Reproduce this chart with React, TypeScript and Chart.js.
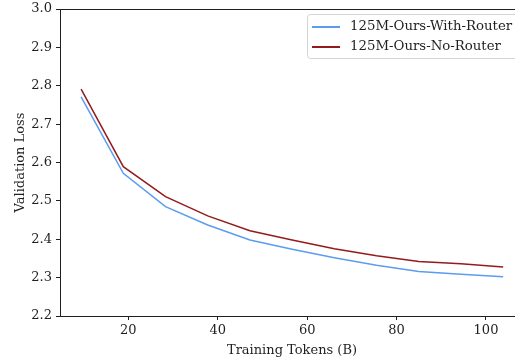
import React, { useEffect, useRef } from "react";
import { Chart, registerables } from "chart.js";

Chart.register(...registerables);

const tokens = [9.44, 18.88, 28.32, 37.76, 47.2, 56.64, 66.08, 75.52, 84.96, 94.4, 103.84];
const withRouter = [2.771, 2.572, 2.485, 2.437, 2.398, 2.374, 2.352, 2.332, 2.316, 2.309, 2.302];
const noRouter = [2.791, 2.589, 2.511, 2.461, 2.422, 2.398, 2.375, 2.357, 2.342, 2.336, 2.328];
const xTicks = [20, 40, 60, 80, 100];
const yTicks = [2.2, 2.3, 2.4, 2.5, 2.6, 2.7, 2.8, 2.9, 3.0];
const seriesNames = ["125M-Ours-With-Router", "125M-Ours-No-Router"];
const seriesColors = ["#5b9cf0", "#941b1b"];

const FONT = "'DejaVu Serif', serif";
const INK = "#1f1f1f";

const framePlugin = {
  id: "frame",
  afterDatasetsDraw(chart: any) {
    const { ctx, chartArea } = chart;
    ctx.save();
    ctx.strokeStyle = INK;
    ctx.lineWidth = 1;
    ctx.strokeRect(
      Math.round(chartArea.left) + 0.5,
      Math.round(chartArea.top) + 0.5,
      Math.round(chartArea.right - chartArea.left),
      Math.round(chartArea.bottom - chartArea.top)
    );
    // legend
    const bx = 307.5, by = 14.5, bw = 212, bh = 44, r = 3;
    ctx.beginPath();
    ctx.moveTo(bx + r, by);
    ctx.lineTo(bx + bw - r, by);
    ctx.quadraticCurveTo(bx + bw, by, bx + bw, by + r);
    ctx.lineTo(bx + bw, by + bh - r);
    ctx.quadraticCurveTo(bx + bw, by + bh, bx + bw - r, by + bh);
    ctx.lineTo(bx + r, by + bh);
    ctx.quadraticCurveTo(bx, by + bh, bx, by + bh - r);
    ctx.lineTo(bx, by + r);
    ctx.quadraticCurveTo(bx, by, bx + r, by);
    ctx.closePath();
    ctx.fillStyle = "rgba(255,255,255,0.85)";
    ctx.fill();
    ctx.strokeStyle = "#d4d4d4";
    ctx.stroke();
    ctx.font = `13.3px ${FONT}`;
    ctx.textBaseline = "middle";
    ctx.textAlign = "left";
    seriesNames.forEach((name, i) => {
      const y = 27 + i * 20;
      ctx.strokeStyle = seriesColors[i];
      ctx.lineWidth = 2;
      ctx.beginPath();
      ctx.moveTo(312, y);
      ctx.lineTo(340, y);
      ctx.stroke();
      ctx.fillStyle = INK;
      ctx.fillText(name, 350, y);
    });
    ctx.restore();
  },
};

export default function App() {
  const ref = useRef<HTMLCanvasElement>(null);
  useEffect(() => {
    if (!ref.current) return;
    const chart = new Chart(ref.current, {
      type: "line",
      data: {
        datasets: [
          {
            label: seriesNames[0],
            data: tokens.map((x, i) => ({ x, y: withRouter[i] })),
            borderColor: seriesColors[0],
            borderWidth: 1.5,
            pointRadius: 0,
            tension: 0,
          },
          {
            label: seriesNames[1],
            data: tokens.map((x, i) => ({ x, y: noRouter[i] })),
            borderColor: seriesColors[1],
            borderWidth: 1.5,
            pointRadius: 0,
            tension: 0,
          },
        ],
      },
      options: {
        responsive: false,
        animation: false,
        layout: { padding: { top: 9, right: 1, left: 0, bottom: 0 } },
        plugins: { legend: { display: false }, tooltip: { enabled: false } },
        scales: {
          x: {
            type: "linear",
            min: 4.72,
            max: 108.5,
            afterBuildTicks: (s: any) => {
              s.ticks = xTicks.map((v) => ({ value: v }));
            },
            afterFit: (s: any) => {
              s.height = 44;
              s.paddingLeft = 0;
              s.paddingRight = 0;
            },
            grid: { drawOnChartArea: false, drawTicks: true, tickLength: 4, color: INK },
            border: { display: false },
            ticks: {
              maxRotation: 0,
              autoSkip: false,
              padding: 3,
              color: INK,
              font: { family: FONT, size: 13 },
            },
            title: {
              display: true,
              text: "Training Tokens (B)",
              color: INK,
              font: { family: FONT, size: 13 },
              padding: { top: 0, bottom: 2 },
            },
          },
          y: {
            type: "linear",
            min: 2.2,
            max: 3.0,
            afterBuildTicks: (s: any) => {
              s.ticks = yTicks.map((v) => ({ value: v }));
            },
            afterFit: (s: any) => {
              s.width = 60;
              s.paddingTop = 0;
              s.paddingBottom = 0;
            },
            grid: { drawOnChartArea: false, drawTicks: true, tickLength: 4, color: INK },
            border: { display: false },
            ticks: {
              autoSkip: false,
              padding: 4,
              color: INK,
              font: { family: FONT, size: 13 },
              callback: (v: any) => Number(v).toFixed(1),
            },
            title: {
              display: true,
              text: "Validation Loss",
              color: INK,
              font: { family: FONT, size: 13 },
              padding: { top: 13, bottom: 0 },
            },
          },
        },
      },
      plugins: [framePlugin],
    });
    return () => chart.destroy();
  }, []);
  return (
    <div style={{ position: "fixed", left: 0, top: 0, width: 515, height: 360, overflow: "hidden", background: "#fff" }}>
      <canvas ref={ref} width={525} height={360} style={{ display: "block", width: 525, height: 360 }} />
    </div>
  );
}
